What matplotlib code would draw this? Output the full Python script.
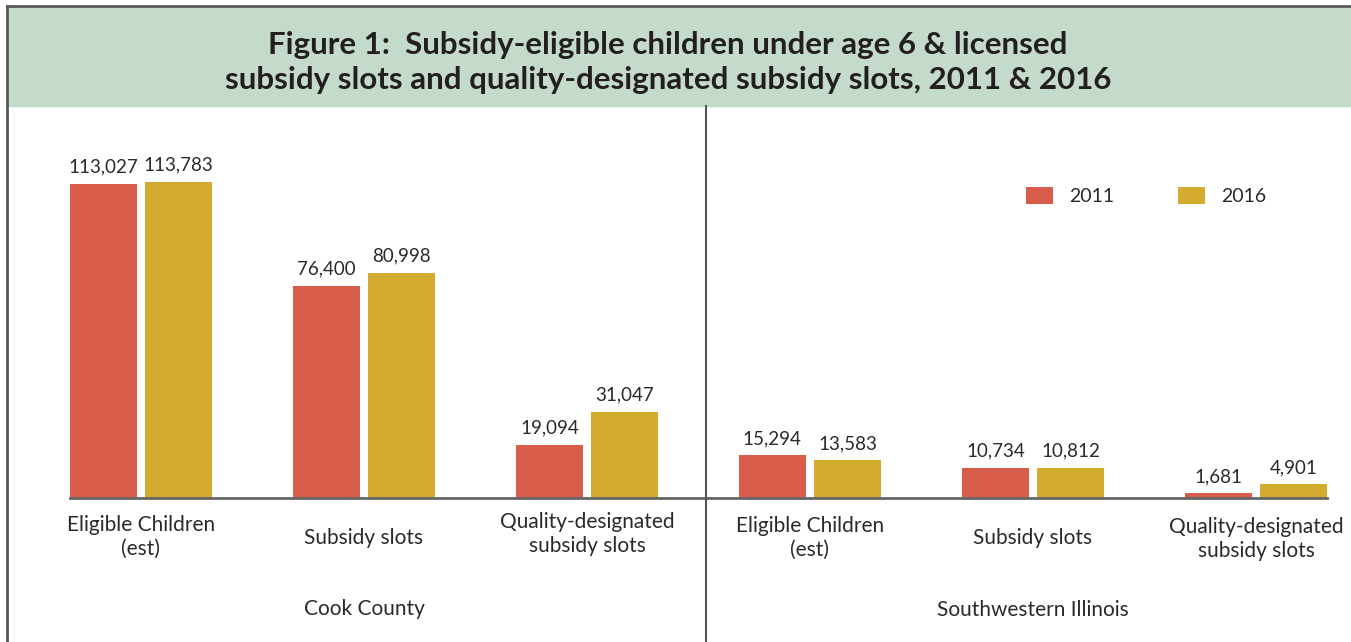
import numpy as np
import matplotlib.pyplot as plt
from matplotlib.patches import Rectangle
from matplotlib.lines import Line2D

plt.rcParams['font.family'] = ['Lato', 'DejaVu Sans']

categories = ['Eligible Children\n(est)', 'Subsidy slots', 'Quality-designated\nsubsidy slots']
regions = ['Cook County', 'Southwestern Illinois']
years = ['2011', '2016']

cook_2011 = [113027, 76400, 19094]
cook_2016 = [113783, 80998, 31047]
sw_2011 = [15294, 10734, 1681]
sw_2016 = [13583, 10812, 4901]

red = '#d95d4b'
gold = '#d3ab2f'
ink = '#2b2a2a'

W, H = 1351, 642
fig = plt.figure(figsize=(W / 100, H / 100), dpi=100)
ax = fig.add_axes([0, 0, 1, 1])

# work in a pixel-like frame: one group step = 223 px, 1 px = ~360 children
step_px = 223.0
x0_px = 141.0
base_px = 498.0
per_px = 1 / 0.00278

ax.set_xlim(-x0_px / step_px, (W - x0_px) / step_px)
ax.set_ylim(-(H - base_px) * per_px, base_px * per_px)
ax.axis('off')

def py(px_from_top):
    return (base_px - px_from_top) * per_px

vals_2011 = cook_2011 + sw_2011
vals_2016 = cook_2016 + sw_2016
x = np.arange(len(vals_2011))
off = 0.169
bw = 0.30

b1 = ax.bar(x - off, vals_2011, bw, color=red, label=years[0], zorder=2)
b2 = ax.bar(x + off, vals_2016, bw, color=gold, label=years[1], zorder=2)

for bars, vals in ((b1, vals_2011), (b2, vals_2016)):
    for rect, v in zip(bars, vals):
        ax.annotate(f'{v:,}', (rect.get_x() + rect.get_width() / 2, v),
                    xytext=(0, 6), textcoords='offset points',
                    ha='center', va='bottom', fontsize=13.5, color=ink)

# baselines and panel divider
div_x = (706 - x0_px) / step_px
left_x = (70 - x0_px) / step_px
right_x = (1327 - x0_px) / step_px
ax.plot([left_x, div_x], [0, 0], color='#666666', lw=2, zorder=3)
ax.plot([div_x, right_x], [0, 0], color='#666666', lw=2, zorder=3)
ax.plot([div_x, div_x], [py(106), py(H)], color='#555555', lw=1.5, zorder=3)

# category labels under each group (top of first line)
label_top = {0: 515, 2: 512, 3: 516, 5: 517}
for i in range(6):
    name = categories[i % 3]
    if '\n' in name:
        ax.text(i, py(label_top[i]), name, ha='center', va='top', fontsize=15,
                color=ink, linespacing=1.25)
    else:
        ax.text(i, py(538), name, ha='center', va='center', fontsize=15, color=ink)

ax.text(1, py(609), regions[0], ha='center', va='center', fontsize=15, color=ink)
ax.text(4, py(610), regions[1], ha='center', va='center', fontsize=15, color=ink)

leg = ax.legend(ncol=2, loc='center left', bbox_to_anchor=(1026 / W, 1 - 196 / H),
                bbox_transform=fig.transFigure, frameon=False, borderpad=0,
                borderaxespad=0, fontsize=14, handlelength=1.4, handleheight=1.0,
                handletextpad=0.8, columnspacing=3.3, labelcolor=ink)

# title banner and outer frame
fig.add_artist(Rectangle((8 / W, 1 - 106 / H), 1, 99 / H,
                         transform=fig.transFigure, color='#c4dacb', zorder=0))
fig.add_artist(Line2D([7 / W, 1], [1 - 6 / H, 1 - 6 / H],
                      transform=fig.transFigure, color='#5a5a5a', lw=2))
fig.add_artist(Line2D([7 / W, 7 / W], [0, 1 - 6 / H],
                      transform=fig.transFigure, color='#5a5a5a', lw=2))
fig.text(668 / W, 1 - 45 / H,
         'Figure 1:  Subsidy-eligible children under age 6 & licensed',
         ha='center', va='center', fontsize=22.5, fontweight='bold', color='#231f20')
fig.text(668 / W, 1 - 80 / H,
         'subsidy slots and quality-designated subsidy slots, 2011 & 2016',
         ha='center', va='center', fontsize=22.5, fontweight='bold', color='#231f20')

fig.savefig('out.png', dpi=100)
